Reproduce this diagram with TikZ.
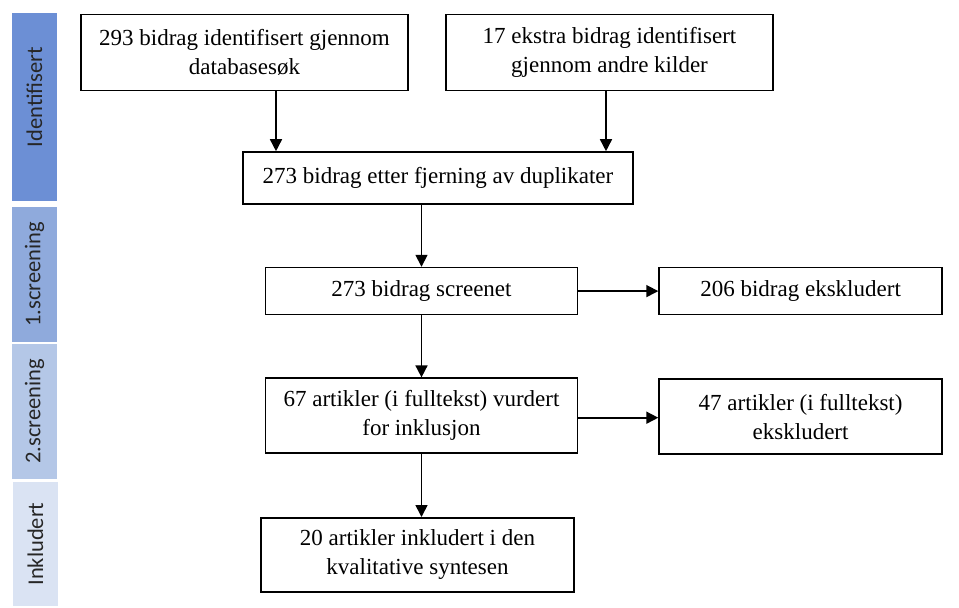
\documentclass[tikz,border=0pt]{standalone}
\usepackage{fontspec}
\setmainfont{Liberation Serif}
\newfontfamily\fasefont{Carlito}
\usetikzlibrary{positioning,arrows.meta,calc}
\definecolor{idc}{HTML}{6C8FD5}
\definecolor{scrAc}{HTML}{8FAADC}
\definecolor{scrBc}{HTML}{B4C7E7}
\definecolor{inkc}{HTML}{DAE3F3}
\definecolor{tekstc}{HTML}{262626}
\tikzset{
  boks/.style   ={draw=black,line width=1.6pt,fill=white,inner sep=0pt,align=center,
                  font=\rmfamily\fontsize{23}{29}\selectfont},
  fase/.style   ={fill=#1,minimum height=45pt,inner sep=0pt,rotate=90,
                  font=\fasefont\fontsize{22.5}{27}\selectfont,text=tekstc},
  fasetxt/.style={rotate=90,inner sep=0pt,font=\fasefont\fontsize{22.5}{27}\selectfont,text=tekstc},
  ar/.style     ={-{Triangle[length=12pt,width=12pt]},draw=black,line width=1.6pt},
}
\begin{document}
\begin{tikzpicture}
\useasboundingbox (0,0) rectangle (959pt,-608pt);

% ---- faser ---------------------------------------------------------------
\node[fase=idc,minimum width=188pt] (fid) at (34.5pt,-107pt) {};
\node[fasetxt] at ([yshift=10pt]fid.center) {Identifisert};
\node[fase=scrAc,minimum width=135pt] (fs1) at (34.5pt,-274.5pt) {1.screening};
\node[fase=scrBc,minimum width=135pt] (fs2) at (34.5pt,-411.5pt) {2.screening};
\node[fase=inkc,minimum width=124pt] (fin) at (35.5pt,-544pt) {Inkludert};

% ---- identifisering ------------------------------------------------------
\node[boks,minimum width=327pt,minimum height=76pt] (db) at (244.5pt,-52.5pt)
  {293 bidrag identifisert gjennom\\databasesøk};
\node[boks,minimum width=327pt,minimum height=76pt] (ak) at (609.5pt,-52.5pt)
  {17 ekstra bidrag identifisert\\gjennom andre kilder};
\node[boks,minimum width=390pt,minimum height=52pt] (dup) at (438pt,-178pt)
  {273 bidrag etter fjerning av duplikater};
\coordinate (dbut) at ([xshift=31.5pt]db.south);
\coordinate (akut) at ([xshift=-3.5pt]ak.south);
\draw[ar](dbut)--(dbut|-dup.north);
\draw[ar](akut)--(akut|-dup.north);

% ---- screening -----------------------------------------------------------
\node[boks,minimum width=312pt,minimum height=47pt,below=62pt of dup.south west,
  anchor=north west,xshift=22.5pt] (scr) {273 bidrag screenet};
\node[boks,minimum width=283pt,minimum height=47pt,right=80pt of scr] (eks1)
  {206 bidrag ekskludert};
\draw[ar](dup.south-|scr.north)--(scr.north);
\draw[ar](scr)--(eks1);

\node[boks,minimum width=312pt,minimum height=75pt,below=62pt of scr] (ful)
  {67 artikler (i fulltekst) vurdert\\for inklusjon};
\node[boks,minimum width=283pt,minimum height=75pt,right=80pt of ful,yshift=-1pt] (eks2)
  {47 artikler (i fulltekst)\\ekskludert};
\draw[ar](scr)--(ful);
\draw[ar]([yshift=-2pt]ful.east)--([yshift=-2pt]ful.east-|eks2.west);

% ---- inkludert -----------------------------------------------------------
\node[boks,minimum width=313pt,minimum height=74pt,below=63pt of ful,xshift=-4pt] (inkl)
  {20 artikler inkludert i den\\kvalitative syntesen};
\draw[ar](ful.south)--(ful.south|-inkl.north);
\end{tikzpicture}
\end{document}
